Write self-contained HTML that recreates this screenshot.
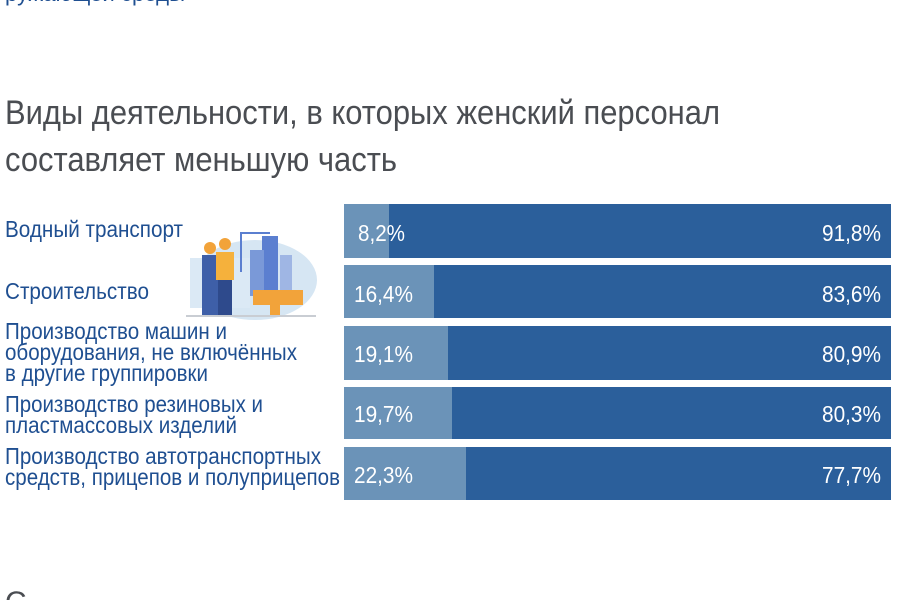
<!DOCTYPE html>
<html><head><meta charset="utf-8"><style>
html,body{margin:0;padding:0;background:#fff;}
svg{display:block;}
</style></head><body>
<svg width="900" height="600" viewBox="0 0 900 600" xmlns="http://www.w3.org/2000/svg" font-family="Liberation Sans, sans-serif">
<text x="5" y="1" font-size="22" fill="#1f4f91" textLength="180" lengthAdjust="spacingAndGlyphs">ружающей среды</text>
<text x="5" y="124" font-size="34" fill="#4a4d52" textLength="715" lengthAdjust="spacingAndGlyphs">Виды деятельности, в которых женский персонал</text>
<text x="5" y="171" font-size="34" fill="#4a4d52" textLength="392" lengthAdjust="spacingAndGlyphs">составляет меньшую часть</text>
<g font-size="23.5" fill="#1f4f91">
<text x="5" y="237" textLength="178" lengthAdjust="spacingAndGlyphs">Водный транспорт</text>
<text x="5" y="299" textLength="144" lengthAdjust="spacingAndGlyphs">Строительство</text>
<text x="5" y="339" textLength="222" lengthAdjust="spacingAndGlyphs">Производство машин и</text>
<text x="5" y="360" textLength="292" lengthAdjust="spacingAndGlyphs">оборудования, не включённых</text>
<text x="5" y="381" textLength="203" lengthAdjust="spacingAndGlyphs">в другие группировки</text>
<text x="5" y="412" textLength="258" lengthAdjust="spacingAndGlyphs">Производство резиновых и</text>
<text x="5" y="433" textLength="232" lengthAdjust="spacingAndGlyphs">пластмассовых изделий</text>
<text x="5" y="464" textLength="316" lengthAdjust="spacingAndGlyphs">Производство автотранспортных</text>
<text x="5" y="485" textLength="335" lengthAdjust="spacingAndGlyphs">средств, прицепов и полуприцепов</text>
</g>
<text x="5" y="612" font-size="30" fill="#4a4d52">С</text>
<g>
<ellipse cx="255" cy="280" rx="62" ry="40" fill="#d6e6f3"/>
<rect x="190" y="258" width="60" height="50" fill="#dbe9f5"/>
<rect x="262" y="236" width="16" height="60" fill="#5b7fd0"/>
<rect x="250" y="250" width="14" height="46" fill="#7a99d8"/>
<rect x="280" y="255" width="12" height="40" fill="#9fb6e4"/>
<rect x="240" y="232" width="2" height="40" fill="#5b7fd0"/>
<rect x="240" y="232" width="30" height="2" fill="#5b7fd0"/>
<rect x="253" y="290" width="50" height="15" fill="#f2a33a"/>
<rect x="270" y="305" width="10" height="10" fill="#f2a33a"/>
<circle cx="210" cy="248" r="6" fill="#f2a33a"/>
<rect x="202" y="255" width="16" height="60" fill="#3e5fa8"/>
<circle cx="225" cy="244" r="6" fill="#f2a33a"/>
<rect x="216" y="252" width="18" height="28" fill="#f5b13c"/>
<rect x="218" y="280" width="14" height="35" fill="#2e4a8c"/>
<rect x="186" y="315" width="130" height="2" fill="#c9cdd3"/>
</g>
<g>
<rect x="344" y="204" width="547" height="54" fill="#2b5f9b"/>
<rect x="344" y="204" width="45" height="54" fill="#6b93b8"/>
<rect x="344" y="265" width="547" height="53" fill="#2b5f9b"/>
<rect x="344" y="265" width="90" height="53" fill="#6b93b8"/>
<rect x="344" y="326" width="547" height="54" fill="#2b5f9b"/>
<rect x="344" y="326" width="104" height="54" fill="#6b93b8"/>
<rect x="344" y="387" width="547" height="52" fill="#2b5f9b"/>
<rect x="344" y="387" width="108" height="52" fill="#6b93b8"/>
<rect x="344" y="447" width="547" height="53" fill="#2b5f9b"/>
<rect x="344" y="447" width="122" height="53" fill="#6b93b8"/>
</g>
<g font-size="23.5" fill="#fff" lengthAdjust="spacingAndGlyphs">
<text x="358" y="241" textLength="47" lengthAdjust="spacingAndGlyphs">8,2%</text>
<text x="354" y="302" textLength="59" lengthAdjust="spacingAndGlyphs">16,4%</text>
<text x="354" y="362" textLength="59" lengthAdjust="spacingAndGlyphs">19,1%</text>
<text x="354" y="422" textLength="59" lengthAdjust="spacingAndGlyphs">19,7%</text>
<text x="354" y="483" textLength="59" lengthAdjust="spacingAndGlyphs">22,3%</text>
<text x="822" y="241" textLength="59" lengthAdjust="spacingAndGlyphs">91,8%</text>
<text x="822" y="302" textLength="59" lengthAdjust="spacingAndGlyphs">83,6%</text>
<text x="822" y="362" textLength="59" lengthAdjust="spacingAndGlyphs">80,9%</text>
<text x="822" y="422" textLength="59" lengthAdjust="spacingAndGlyphs">80,3%</text>
<text x="822" y="483" textLength="59" lengthAdjust="spacingAndGlyphs">77,7%</text>
</g>
</svg>
</body></html>
